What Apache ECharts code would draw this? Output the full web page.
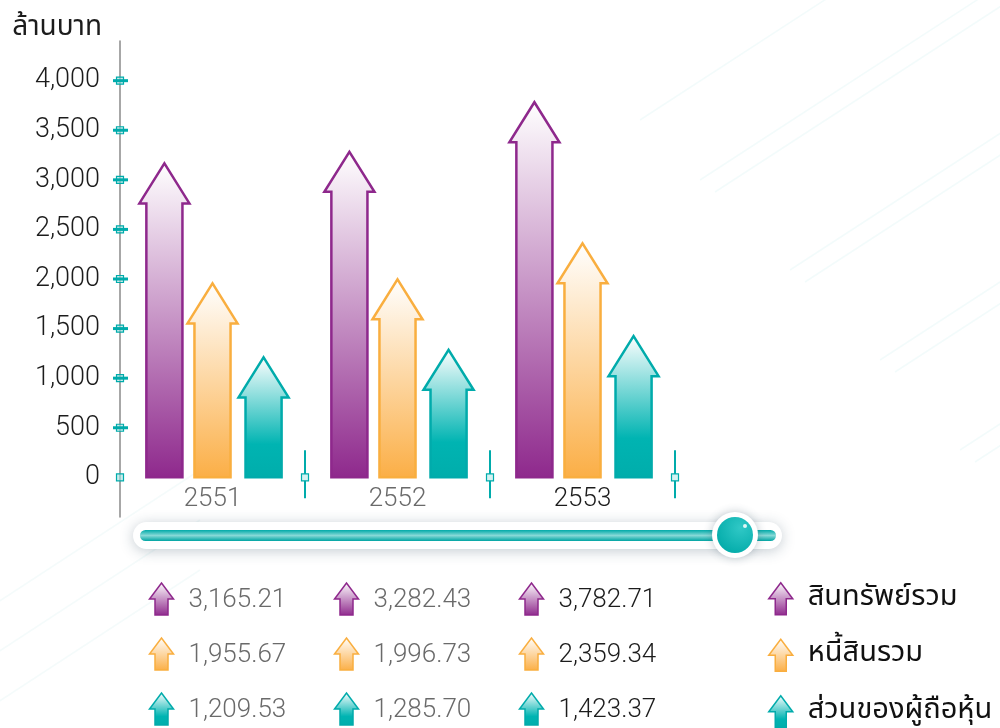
<!DOCTYPE html>
<html>
<head>
<meta charset="utf-8">
<title>สินทรัพย์ หนี้สิน ส่วนของผู้ถือหุ้น</title>
<style>
  * { margin: 0; padding: 0; }
  body { background: #fff; }
  #chart { width: 1000px; height: 728px; }
</style>
</head>
<body>
<div id="chart"></div>
<script src="https://cdn.jsdelivr.net/npm/echarts@6/dist/echarts.min.js"></script>
<script>
// data
var years = ['2551', '2552', '2553'];
var assets = [3165.21, 3282.43, 3782.71];
var liabilities = [1955.67, 1996.73, 2359.34];
var equity = [1209.53, 1285.70, 1423.37];
var seriesNames = ['สินทรัพย์รวม', 'หนี้สินรวม', 'ส่วนของผู้ถือหุ้น'];
var yTicks = [0, 500, 1000, 1500, 2000, 2500, 3000, 3500, 4000];

var FONT = 'Roboto, "Noto Sans Thai", "Noto Sans", sans-serif';
var THAI = '"Noto Sans Thai", "Noto Sans", "DejaVu Sans", sans-serif';
var TEAL = '#00abab';

var styles = [
  { line: '#8e288c', stops: [[0, '#ffffff'], [1, '#8e288c']], off: -0.26 },
  { line: '#f9ae3f', stops: [[0, '#ffffff'], [1, '#fbae45']], off: 0 },
  { line: '#00abab', stops: [[0, '#ffffff'], [0.72, '#00b4b2'], [1, '#00adab']], off: 0.276 }
];
function grad(s) {
  return new echarts.graphic.LinearGradient(0, 0, 0, 1,
    s.stops.map(function (p) { return { offset: p[0], color: p[1] }; }));
}
function fmt(v) {
  return v.toLocaleString('en-US', { minimumFractionDigits: 2, maximumFractionDigits: 2 });
}
function textColor(i) { return i === years.length - 1 ? '#1c1c1c' : '#6a6a6a'; }

// arrow bars + the value table below the chart
function arrowSeries(name, values, si) {
  var st = styles[si];
  return {
    type: 'custom',
    name: name,
    itemStyle: { color: grad(st), borderColor: st.line },
    data: values.map(function (v, i) { return [i, v]; }),
    encode: { x: 0, y: 1 },
    renderItem: function (params, api) {
      var i = api.value(0), v = api.value(1);
      var top = api.coord([i, v]);
      var base = api.coord([i, 0]);
      var band = api.size([1, 0])[0];
      var cx = top[0] + st.off * band;
      var hw = band * 0.0975, ex = 7, hh = 40;
      var pts = [
        [cx - hw, base[1]], [cx - hw, top[1] + hh], [cx - hw - ex, top[1] + hh],
        [cx, top[1]], [cx + hw + ex, top[1] + hh], [cx + hw, top[1] + hh], [cx + hw, base[1]]
      ];
      // small icon + number in the table
      var ix = top[0] - 51, iy = 583 + si * 55;
      var icon = [
        [ix - 6.5, iy + 32], [ix - 6.5, iy + 16], [ix - 12, iy + 16], [ix, iy],
        [ix + 12, iy + 16], [ix + 6.5, iy + 16], [ix + 6.5, iy + 32]
      ];
      return {
        type: 'group',
        children: [
          { type: 'polygon', shape: { points: pts },
            style: { fill: grad(st), stroke: st.line, lineWidth: 2.5, lineJoin: 'miter' } },
          { type: 'polygon', shape: { points: icon },
            style: { fill: grad(st), stroke: st.line, lineWidth: 1.5 } },
          { type: 'text', x: top[0] - 24, y: iy + 17,
            style: { text: fmt(v), fill: textColor(i), font: '300 26px ' + FONT,
                     textVerticalAlign: 'middle', textAlign: 'left' } }
        ]
      };
    }
  };
}

// tick decorations: teal dashes with small squares on the value axis
var yTickSeries = {
  type: 'custom', name: 'yticks', silent: true, z: 5,
  data: yTicks.map(function (v) { return [0, v]; }),
  encode: { x: 0, y: 1 },
  renderItem: function (params, api) {
    var p = api.coord([0, api.value(1)]);
    var x = p[0] - api.size([1, 0])[0] / 2;
    var kids = [
      { type: 'rect', shape: { x: x - 3.5, y: p[1] - 3.5, width: 7, height: 7 },
        style: { fill: 'rgba(160,225,225,0.6)', stroke: TEAL, lineWidth: 1.2 } }
    ];
    if (api.value(1) !== 0) {
      kids.push({ type: 'line', shape: { x1: x - 7, y1: p[1], x2: x + 8, y2: p[1] },
        style: { stroke: TEAL, lineWidth: 3 } });
    }
    return { type: 'group', children: kids };
  }
};
// separators between categories
var xTickSeries = {
  type: 'custom', name: 'xticks', silent: true, z: 5,
  data: years.map(function (y, i) { return [i, 0]; }),
  encode: { x: 0, y: 1 },
  renderItem: function (params, api) {
    var p = api.coord([api.value(0), 0]);
    var x = p[0] + api.size([1, 0])[0] / 2;
    return {
      type: 'group',
      children: [
        { type: 'line', shape: { x1: x, y1: p[1] - 27, x2: x, y2: p[1] + 21 },
          style: { stroke: TEAL, lineWidth: 2 } },
        { type: 'rect', shape: { x: x - 3.5, y: p[1] - 3.5, width: 7, height: 7 },
          style: { fill: '#d6f2f2', stroke: TEAL, lineWidth: 1.2 } }
      ]
    };
  }
};

// faint diagonal background lines
var bgLines = [];
[[640, 60], [700, 120], [715, 132], [790, 210], [805, 222], [880, 300], [895, 312], [960, 390], [975, 402]].forEach(function (a) {
  bgLines.push({ type: 'line', silent: true, z: -10,
    shape: { x1: a[0], y1: a[1] + 60, x2: a[0] + 400, y2: a[1] - 200 },
    style: { stroke: 'rgba(0,170,170,0.05)', lineWidth: 1.5 } });
});
[[-60, 640], [-60, 690], [-60, 740]].forEach(function (a) {
  bgLines.push({ type: 'line', silent: true, z: -10,
    shape: { x1: a[0], y1: a[1], x2: a[0] + 260, y2: a[1] - 170 },
    style: { stroke: 'rgba(0,170,170,0.045)', lineWidth: 1.5 } });
});

var chart = echarts.init(document.getElementById('chart'));
chart.setOption({
  animation: false,
  backgroundColor: '#ffffff',
  grid: { left: 120, right: 325, top: 41, bottom: 211 },
  xAxis: {
    type: 'category',
    data: years,
    z: 10,
    axisLine: { show: false },
    axisTick: { show: false },
    axisLabel: {
      margin: -31, fontSize: 26, fontWeight: 300, fontFamily: FONT,
      color: function (v, i) { return textColor(i); }
    }
  },
  yAxis: {
    type: 'value',
    min: -400, max: 4400,
    name: 'ล้านบาท',
    nameLocation: 'end',
    nameGap: -2,
    nameTextStyle: { fontSize: 28, fontFamily: THAI, color: '#1c1c1c', align: 'right', padding: [0, 18, 0, 0] },
    axisLine: { show: true, lineStyle: { color: '#8a8a8a', width: 1.5 } },
    axisTick: { show: false },
    splitLine: { show: false },
    axisLabel: {
      customValues: yTicks,
      margin: 20, fontSize: 27, fontWeight: 300, fontFamily: FONT, color: '#1c1c1c',
      formatter: function (v) { return v.toLocaleString('en-US'); }
    }
  },
  legend: {
    orient: 'vertical',
    left: 768, top: 582, height: 170,
    padding: 0,
    itemWidth: 24, itemHeight: 32, itemGap: 23,
    selectedMode: false,
    textStyle: { fontSize: 29, fontFamily: THAI, color: '#111', padding: [0, 0, 0, 10] },
    data: seriesNames.map(function (n, i) {
      return {
        name: n,
        icon: 'path://M6.5,32 L6.5,16 L0,16 L12,0 L24,16 L17.5,16 L17.5,32 Z',
        itemStyle: { color: grad(styles[i]), borderColor: styles[i].line, borderWidth: 1.5 }
      };
    })
  },
  graphic: bgLines.concat([
    // slider decoration under the axis
    { type: 'rect', z: 1, silent: true,
      shape: { x: 133, y: 522, width: 649, height: 27, r: 13.5 },
      style: { fill: '#ffffff', shadowBlur: 14, shadowColor: 'rgba(40,70,90,0.28)', shadowOffsetY: 2 } },
    { type: 'rect', z: 2, silent: true,
      shape: { x: 140, y: 530, width: 636, height: 11, r: 5.5 },
      style: { fill: new echarts.graphic.LinearGradient(0, 0, 0, 1, [
        { offset: 0, color: '#00aaa8' }, { offset: 0.5, color: '#86d9d7' }, { offset: 1, color: '#00a5a3' }]) } },
    { type: 'circle', z: 3, silent: true,
      shape: { cx: 735, cy: 535, r: 23 },
      style: { fill: '#ffffff', shadowBlur: 10, shadowColor: 'rgba(40,70,90,0.3)' } },
    { type: 'circle', z: 4, silent: true,
      shape: { cx: 735, cy: 535, r: 18 },
      style: { fill: new echarts.graphic.RadialGradient(0.65, 0.3, 0.8, [
        { offset: 0, color: '#30c8c6' }, { offset: 1, color: '#00aaa8' }]) } },
    { type: 'circle', z: 5, silent: true,
      shape: { cx: 745, cy: 526, r: 2 },
      style: { fill: 'rgba(255,255,255,0.85)' } }
  ]),
  series: [
    arrowSeries(seriesNames[0], assets, 0),
    arrowSeries(seriesNames[1], liabilities, 1),
    arrowSeries(seriesNames[2], equity, 2),
    yTickSeries,
    xTickSeries
  ]
});
</script>
</body>
</html>
